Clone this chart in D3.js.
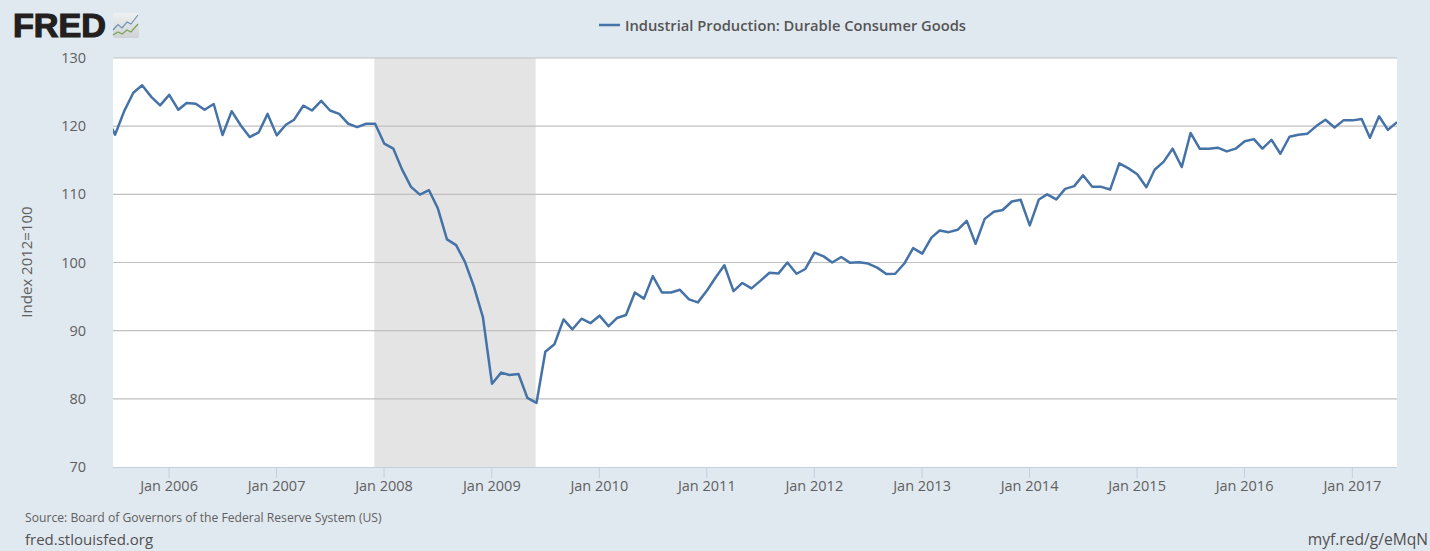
<!DOCTYPE html>
<meta charset="utf-8" />
<head>
  <script src="https://d3js.org/d3.v7.min.js"></script>
  <style>
    html, body { margin: 0; padding: 0; background: #e1e9f0; }
    svg { display: block; font-family: "Open Sans", sans-serif; }
  </style>
</head>
<body>
<div id="chart"></div>
<script>
  const seriesName = "Industrial Production: Durable Consumer Goods";
  const yLabel = "Index 2012=100";
  const sourceText = "Source: Board of Governors of the Federal Reserve System (US)";
  const siteText = "fred.stlouisfed.org";
  const shortUrl = "myf.red/g/eMqN";

  const startMonth = "2005-06-01";
  const axisStart = "2005-06-24";
  const recession = ["2007-12-01", "2009-06-01"];
  const yTicks = [70, 80, 90, 100, 110, 120, 130];
  const tickYears = [2006, 2007, 2008, 2009, 2010, 2011, 2012, 2013, 2014, 2015, 2016, 2017];

  // monthly values, Jun 2005 to Jun 2017
  const values2005 = [121.5, 118.75, 122.2, 124.9, 126.0, 124.3, 123.05];
  const values2006 = [124.6, 122.4, 123.4, 123.3, 122.4, 123.25, 118.7, 122.2, 120.1, 118.4, 119.1, 121.8];
  const values2007 = [118.65, 120.2, 120.95, 123.0, 122.3, 123.7, 122.3, 121.8, 120.35, 119.85, 120.35, 120.35];
  const values2008 = [117.45, 116.7, 113.7, 111.1, 109.95, 110.6, 107.95, 103.4, 102.55, 100.1, 96.4, 92.0];
  const values2009 = [82.2, 83.85, 83.5, 83.65, 80.15, 79.4, 86.9, 88.0, 91.65, 90.2, 91.75, 91.1];
  const values2010 = [92.2, 90.65, 91.85, 92.3, 95.6, 94.7, 98.0, 95.6, 95.6, 96.0, 94.6, 94.15];
  const values2011 = [95.9, 97.9, 99.6, 95.8, 97.0, 96.2, 97.3, 98.5, 98.4, 100.0, 98.35, 99.05];
  const values2012 = [101.45, 100.9, 100.0, 100.8, 99.95, 100.05, 99.85, 99.25, 98.3, 98.35, 99.85, 102.1];
  const values2013 = [101.3, 103.65, 104.7, 104.45, 104.8, 106.1, 102.75, 106.4, 107.45, 107.7, 108.95, 109.2];
  const values2014 = [105.45, 109.25, 110.0, 109.25, 110.8, 111.2, 112.8, 111.1, 111.1, 110.7, 114.55, 113.85];
  const values2015 = [112.95, 111.05, 113.6, 114.8, 116.7, 114.0, 119.0, 116.7, 116.7, 116.85, 116.3, 116.7];
  const values2016 = [117.8, 118.1, 116.7, 118.0, 115.95, 118.45, 118.75, 118.9, 120.05, 120.95, 119.8, 120.85];
  const values2017 = [120.85, 121.05, 118.3, 121.45, 119.45, 120.6];

  const values = [].concat(values2005, values2006, values2007, values2008, values2009,
    values2010, values2011, values2012, values2013, values2014, values2015, values2016, values2017);

  const parse = d3.utcParse("%Y-%m-%d");
  const data = values.map((v, i) => ({ date: d3.utcMonth.offset(parse(startMonth), i), value: v }));

  const W = 1430, H = 551;
  const plotLeft = 113, plotRight = 1397, plotTop = 58, plotBottom = 467;

  const svg = d3.select("#chart").append("svg").attr("width", W).attr("height", H);

  const x = d3.scaleUtc()
    .domain([parse(axisStart), data[data.length - 1].date])
    .range([plotLeft, plotRight]);
  const y = d3.scaleLinear().domain([70, 130]).range([plotBottom, plotTop]);

  const defs = svg.append("defs");
  defs.append("clipPath").attr("id", "plot")
    .append("rect")
    .attr("x", plotLeft).attr("y", plotTop - 2)
    .attr("width", plotRight - plotLeft).attr("height", plotBottom - plotTop + 2);

  const iconFill = defs.append("linearGradient").attr("id", "iconFill")
    .attr("x1", 0).attr("y1", 0).attr("x2", 0).attr("y2", 1);
  iconFill.append("stop").attr("offset", "0%").attr("stop-color", "#eef0f1");
  iconFill.append("stop").attr("offset", "100%").attr("stop-color", "#cfd2d4");

  svg.append("rect")
    .attr("x", plotLeft).attr("y", plotTop)
    .attr("width", plotRight - plotLeft).attr("height", plotBottom - plotTop)
    .attr("fill", "#fff");

  // ticks and shading sit a little left of the points, same as the original
  svg.append("rect")
    .attr("x", x(parse(recession[0])) - 0.8)
    .attr("y", plotTop)
    .attr("width", x(parse(recession[1])) - x(parse(recession[0])))
    .attr("height", plotBottom - plotTop)
    .attr("fill", "#e4e4e4");

  // gridlines
  svg.append("g").selectAll("line")
    .data(yTicks.filter((d) => d > 70))
    .join("line")
    .attr("x1", plotLeft).attr("x2", plotRight)
    .attr("y1", (d) => y(d)).attr("y2", (d) => y(d))
    .attr("stroke", "#c0c0c0")
    .attr("stroke-width", 1.2);

  const yAxis = svg.append("g")
    .attr("transform", "translate(" + plotLeft + ",0)")
    .call(d3.axisLeft(y).tickValues(yTicks).tickSize(0).tickPadding(27));
  yAxis.select(".domain").remove();
  yAxis.selectAll("text")
    .attr("font-family", "Open Sans")
    .attr("font-size", 14.5)
    .attr("fill", "#606060");

  const xAxis = svg.append("g")
    .attr("transform", "translate(-0.7," + plotBottom + ")")
    .call(d3.axisBottom(x)
      .tickValues(tickYears.map((yr) => new Date(Date.UTC(yr, 0, 1))))
      .tickFormat(d3.utcFormat("%b %Y"))
      .tickSize(11)
      .tickSizeOuter(0)
      .tickPadding(3));
  xAxis.select(".domain").attr("stroke", "#c0d0e0").attr("stroke-width", 1);
  xAxis.selectAll("line").attr("stroke", "#c0d0e0");
  xAxis.selectAll("text")
    .attr("font-family", "Open Sans")
    .attr("font-size", 14.5)
    .attr("fill", "#606060");

  const line = d3.line().x((d) => x(d.date)).y((d) => y(d.value));

  svg.append("path")
    .datum(data)
    .attr("clip-path", "url(#plot)")
    .attr("d", line)
    .attr("fill", "none")
    .attr("stroke", "#4572a7")
    .attr("stroke-width", 2.5)
    .attr("stroke-linejoin", "round");

  // legend
  svg.append("line")
    .attr("x1", 599).attr("x2", 620)
    .attr("y1", 25).attr("y2", 25)
    .attr("stroke", "#4572a7").attr("stroke-width", 2.5);
  svg.append("text")
    .attr("x", 625).attr("y", 30.5)
    .attr("font-size", 14.72).attr("font-weight", 600)
    .attr("fill", "#555")
    .text(seriesName);

  svg.append("text")
    .attr("transform", "translate(32,262) rotate(-90)")
    .attr("text-anchor", "middle")
    .attr("font-size", 15)
    .attr("fill", "#606060")
    .text(yLabel);

  svg.append("text")
    .attr("x", 25).attr("y", 522)
    .attr("font-size", 12.17).attr("fill", "#606060")
    .text(sourceText);
  svg.append("text")
    .attr("x", 25).attr("y", 545)
    .attr("font-size", 15).attr("fill", "#505050")
    .text(siteText);
  svg.append("text")
    .attr("x", 1428).attr("y", 545)
    .attr("text-anchor", "end")
    .attr("font-size", 15.6).attr("fill", "#505050")
    .text(shortUrl);

  // FRED logo
  svg.append("text")
    .attr("x", 13).attr("y", 37)
    .attr("font-family", "Liberation Sans")
    .attr("font-weight", 700)
    .attr("font-size", 33)
    .attr("textLength", 93)
    .attr("lengthAdjust", "spacingAndGlyphs")
    .attr("stroke", "#231f20").attr("stroke-width", 1.2)
    .attr("fill", "#231f20")
    .text("FRED");
  svg.append("rect")
    .attr("x", 113).attr("y", 13)
    .attr("width", 26).attr("height", 25).attr("rx", 2)
    .attr("fill", "url(#iconFill)");
  svg.append("path")
    .attr("d", "M113,30 L118,24.5 L122,28 L127,22 L131,24 L138,15")
    .attr("fill", "none").attr("stroke", "#6b93b5").attr("stroke-width", 1.2);
  svg.append("path")
    .attr("d", "M113,35 L118,32 L122,34 L127,30 L131,32 L138,24")
    .attr("fill", "none").attr("stroke", "#7ba05b").attr("stroke-width", 1.2);
</script>
</body>
